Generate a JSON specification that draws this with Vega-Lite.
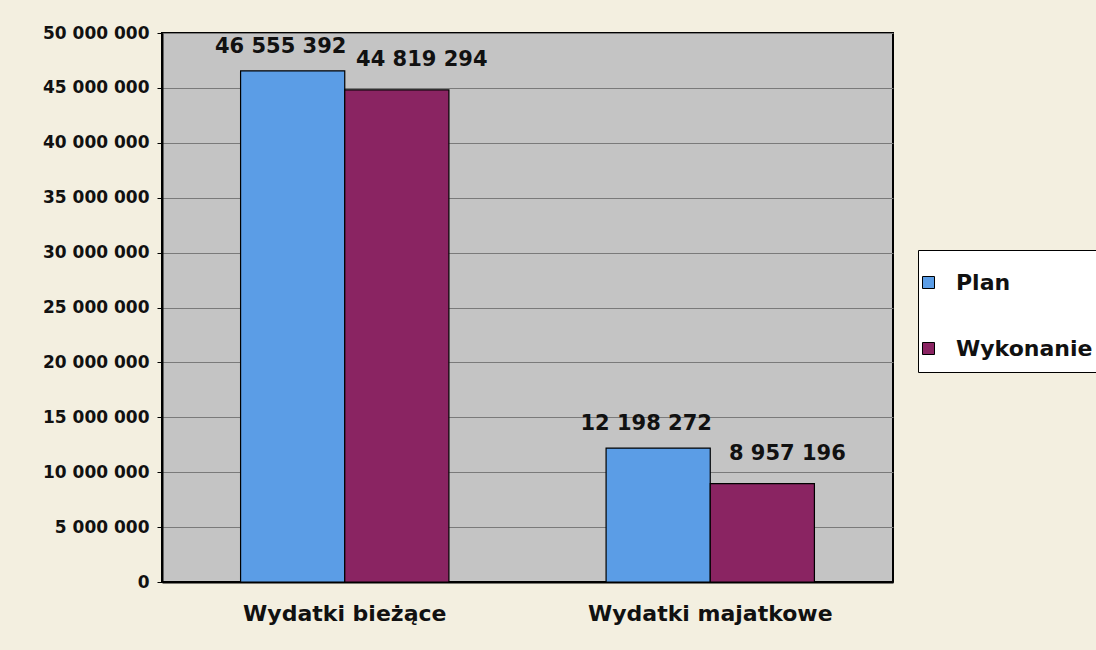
{
  "$schema": "https://vega.github.io/schema/vega-lite/v6.json",
  "autosize": {"type": "none"},
  "width": 731,
  "height": 549,
  "padding": {"left": 162, "top": 33, "right": 203, "bottom": 68},
  "background": "#f3efe0",
  "config": {
    "locale": {"number": {"decimal": ",", "thousands": " ", "grouping": [3], "currency": ["", " zł"]}},
    "font": "DejaVu Sans",
    "view": {"fill": "#c4c4c4", "stroke": "#000000", "strokeWidth": 2}
  },
  "data": {
    "values": [
      {"kategoria": "Wydatki bieżące", "seria": "Plan", "kwota": 46555392},
      {"kategoria": "Wydatki bieżące", "seria": "Wykonanie", "kwota": 44819294},
      {"kategoria": "Wydatki majatkowe", "seria": "Plan", "kwota": 12198272},
      {"kategoria": "Wydatki majatkowe", "seria": "Wykonanie", "kwota": 8957196}
    ]
  },
  "encoding": {
    "x": {
      "field": "kategoria", "type": "nominal", "sort": null,
      "scale": {"paddingInner": 0.43, "paddingOuter": 0.215},
      "axis": {
        "title": null, "labelAngle": 0, "labelFontSize": 22, "labelFontWeight": "bold",
        "labelColor": "#111111", "ticks": false, "labelPadding": 21, "labelLimit": 0,
        "domainColor": "#000000", "domainWidth": 2
      }
    },
    "xOffset": {"field": "seria", "type": "nominal", "scale": {"paddingInner": 0, "paddingOuter": 0}},
    "y": {
      "field": "kwota", "type": "quantitative",
      "scale": {"domain": [0, 50000000], "nice": false},
      "axis": {
        "title": null, "values": [0, 5000000, 10000000, 15000000, 20000000, 25000000, 30000000, 35000000, 40000000, 45000000, 50000000],
        "format": ",d", "labelFontSize": 17, "labelFontWeight": "bold", "labelColor": "#111111",
        "tickColor": "#000000", "tickSize": 5, "labelPadding": 8,
        "gridColor": "#7a7a7a", "gridWidth": 1, "domainColor": "#000000", "domainWidth": 2
      }
    }
  },
  "layer": [
    {
      "mark": {"type": "bar", "stroke": "#000000", "strokeWidth": 1.2},
      "encoding": {
        "color": {
          "field": "seria", "type": "nominal",
          "scale": {"domain": ["Plan", "Wykonanie"], "range": ["#5b9de6", "#8a2462"]},
          "legend": {
            "orient": "none", "legendX": 756, "legendY": 217,
            "title": null,
            "fillColor": "#ffffff", "strokeColor": "#000000", "padding": 12,
            "symbolType": "M-1.4,-0.3H-0.8V0.3H-1.4Z", "symbolSize": 1600,
            "symbolStrokeColor": "#000000", "symbolStrokeWidth": 1,
            "labelFontSize": 22, "labelFontWeight": "bold", "labelColor": "#111111",
            "rowPadding": 34, "labelOffset": -15
          }
        }
      }
    },
    {
      "transform": [{"filter": "datum.seria === 'Plan'"}],
      "mark": {"type": "text", "baseline": "middle", "dy": -24, "dx": -12, "fontSize": 21, "fontWeight": "bold", "color": "#111111"},
      "encoding": {
        "text": {"field": "kwota", "type": "quantitative", "format": ",d"}
      }
    },
    {
      "transform": [{"filter": "datum.seria === 'Wykonanie'"}],
      "mark": {"type": "text", "baseline": "middle", "dy": -30, "dx": 25, "fontSize": 21, "fontWeight": "bold", "color": "#111111"},
      "encoding": {
        "text": {"field": "kwota", "type": "quantitative", "format": ",d"}
      }
    }
  ]
}
